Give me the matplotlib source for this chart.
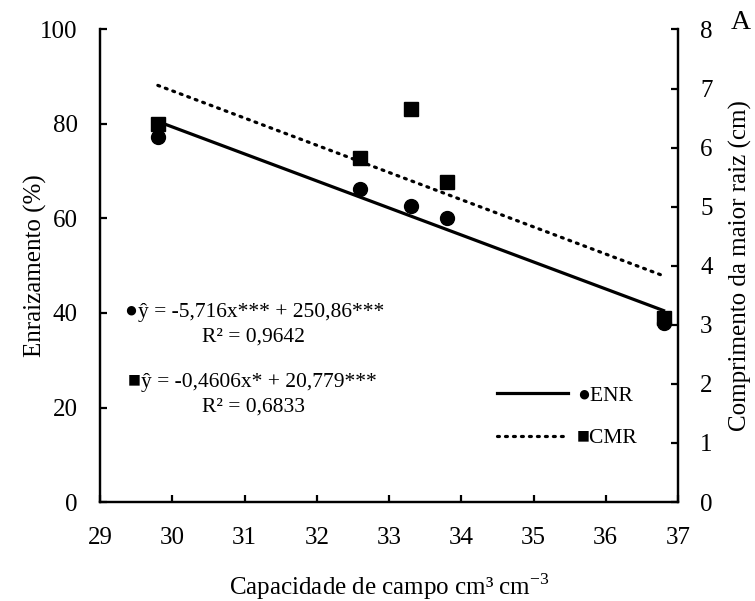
import matplotlib
matplotlib.use('Agg')
import matplotlib.pyplot as plt
import numpy as np

plt.rcParams['font.family'] = ['Liberation Serif', 'DejaVu Serif']
plt.rcParams['mathtext.fontset'] = 'custom'
plt.rcParams['mathtext.rm'] = 'Liberation Serif'

# field capacity (cm3 cm-3)
capacity = [29.8, 32.6, 33.3, 33.8, 36.8]
# rooting (%) - left axis
enr = [77.2, 66.2, 62.6, 60.0, 37.9]
# longest root length (cm) - right axis
cmr = [6.4, 5.83, 6.65, 5.42, 3.11]

# published regressions: slope, intercept
enr_fit = [-5.716, 250.86]
cmr_fit = [-0.4606, 20.779]

fig = plt.figure(figsize=(7.55, 6.01), dpi=100)
ax1 = fig.add_axes([0.1325, 0.1647, 0.7655, 0.7863])
ax2 = ax1.twinx()

xfit = np.array([min(capacity), max(capacity)])
ax1.plot(xfit, enr_fit[0] * xfit + enr_fit[1], color='black', lw=2.3, zorder=2)
ax2.plot(xfit, cmr_fit[0] * xfit + cmr_fit[1], color='black', lw=2.3,
         linestyle=(0, (0.6, 1.9)), dash_capstyle='round', zorder=2)

ax1.plot(capacity, enr, 'o', color='black', ms=10, zorder=3)
ax2.plot(capacity, cmr, 's', color='black', ms=9.5, zorder=3)

ax1.set_xlim(29, 37)
ax1.set_ylim(0, 100)
ax2.set_ylim(0, 8)
ax1.set_xticks(range(29, 38))
ax1.set_yticks(range(0, 101, 20))
ax2.set_yticks(range(0, 9))

for ax in (ax1, ax2):
    ax.spines['top'].set_visible(False)
    for s in ax.spines.values():
        s.set_linewidth(1.6)
    ax.tick_params(direction='in', length=5, width=1.6, labelsize=18)
ax1.tick_params(axis='y', pad=16)
ax1.tick_params(axis='x', pad=18)
ax2.tick_params(axis='y', pad=16)

ax1.set_ylabel('Enraizamento (%)', fontsize=18, labelpad=-5)
ax2.set_ylabel('Comprimento da maior raiz (cm)', fontsize=18, labelpad=12)
ax1.set_xlabel('Capacidade de campo cm³ cm$^{-3}$', fontsize=18, labelpad=16)

ax1.text(0.043, 0.40, '●ŷ = -5,716x*** + 250,86***', transform=ax1.transAxes,
         fontsize=15.5, va='center', ha='left')
ax1.text(0.265, 0.349, 'R² = 0,9642', transform=ax1.transAxes,
         fontsize=15.5, va='center', ha='center')
ax1.text(0.048, 0.252, '■ŷ = -0,4606x* + 20,779***', transform=ax1.transAxes,
         fontsize=15.5, va='center', ha='left')
ax1.text(0.265, 0.201, 'R² = 0,6833', transform=ax1.transAxes,
         fontsize=15.5, va='center', ha='center')

solid = plt.Line2D([], [], color='black', lw=2.3)
dotted = plt.Line2D([], [], color='black', lw=2.3, linestyle=(0, (0.6, 1.9)),
                    dash_capstyle='round')
leg = ax1.legend([solid, dotted], ['●ENR', '■CMR'], loc='center left',
                 bbox_to_anchor=(0.687, 0.18), frameon=False, fontsize=15.5,
                 handlelength=3.3, handletextpad=0.4, labelspacing=1.05,
                 borderpad=0, borderaxespad=0)

fig.text(0.995, 0.962, 'A', fontsize=20, ha='right', va='center')

fig.savefig('out.png', dpi=100)
